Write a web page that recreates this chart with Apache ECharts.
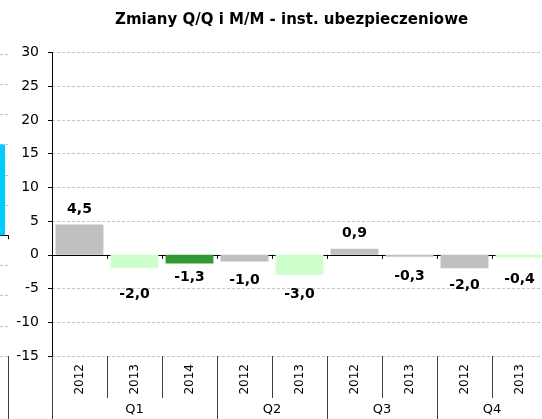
<!DOCTYPE html>
<html>
<head>
<meta charset="utf-8">
<script src="https://cdn.jsdelivr.net/npm/echarts@6/dist/echarts.min.js"></script>
<style>
  html, body { margin: 0; padding: 0; background: #fff; }
  #container { width: 542px; height: 419px; }
</style>
</head>
<body>
<div id="container"></div>
<script>
// dane z wykresu
var years = ['2012', '2013', '2014', '2012', '2013', '2012', '2013', '2012', '2013'];
var quarters = ['Q1', 'Q2', 'Q3', 'Q4'];
var quarterSizes = [3, 2, 2, 2];
var changes = [4.5, -2.0, -1.3, -1.0, -3.0, 0.9, -0.3, -2.0, -0.4];
var yTicks = [-15, -10, -5, 0, 5, 10, 15, 20, 25, 30];
// kawalek sasiedniego wykresu po lewej (ucięty)
var prevChartValues = [3];

// wyglad
var barColors = ['#c0c0c0', '#ccffcc', '#339933', '#c0c0c0', '#ccffcc', '#c0c0c0', '#c0c0c0', '#c0c0c0', '#ccffcc'];
var labelGap = [8, 19, 7, 12, 12, 8, 13, 10, 15];
var FONT = 'DejaVu Sans';

var dom = document.getElementById('container');
var myChart = echarts.init(dom, null, { renderer: 'canvas' });

// granice i srodki grup Q
var bounds = [0];
var centers = [];
for (var i = 0; i < quarterSizes.length; i++) {
    var b = bounds[bounds.length - 1];
    centers.push(b + quarterSizes[i] / 2);
    bounds.push(b + quarterSizes[i]);
}

var barData = changes.map(function (v, i) {
    return {
        value: v,
        itemStyle: { color: barColors[i] },
        label: { position: v >= 0 ? 'top' : 'bottom', distance: labelGap[i] }
    };
});

var option = {
    animation: false,
    backgroundColor: '#fff',
    title: {
        text: 'Zmiany Q/Q i M/M - inst. ubezpieczeniowe',
        left: 115,
        top: 13,
        padding: 0,
        textStyle: { fontFamily: FONT, fontSize: 15, fontWeight: 'bold', color: '#000' }
    },
    grid: [
        { left: 52, top: 52.5, width: 495, bottom: 63, containLabel: false, outerBoundsMode: 'none' },
        { left: -40, top: 54, width: 48, bottom: 63, containLabel: false, outerBoundsMode: 'none' }
    ],
    xAxis: [
        {
            gridIndex: 0, type: 'category', data: years, position: 'bottom',
            axisLine: { show: true, onZero: true, lineStyle: { color: '#000', width: 1 } },
            axisTick: { show: true, length: 4, lineStyle: { color: '#000' } },
            axisLabel: { show: false },
            splitLine: { show: false }
        },
        {
            gridIndex: 0, type: 'category', data: years, position: 'bottom',
            axisLine: { show: false, onZero: false },
            axisTick: { show: true, length: 42, lineStyle: { color: '#404040' } },
            axisLabel: { interval: 0, rotate: 90, margin: 8, fontFamily: FONT, fontSize: 12, color: '#000' },
            splitLine: { show: false }
        },
        {
            gridIndex: 0, type: 'value', min: 0, max: bounds[bounds.length - 1], position: 'bottom',
            axisLine: { show: false, onZero: false },
            axisTick: { show: true, length: 63, customValues: bounds, lineStyle: { color: '#404040' } },
            axisLabel: {
                customValues: centers, margin: 47, fontFamily: FONT, fontSize: 13, color: '#000',
                formatter: function (v) { return quarters[centers.indexOf(v)]; }
            },
            splitLine: { show: false }
        },
        {
            gridIndex: 1, type: 'category', data: ['a'], position: 'bottom',
            axisLine: { show: true, onZero: true, lineStyle: { color: '#000' } },
            axisTick: { show: true, length: 4, lineStyle: { color: '#000' } },
            axisLabel: { show: false }
        },
        {
            gridIndex: 1, type: 'category', data: ['a'], position: 'bottom',
            axisLine: { show: false, onZero: false },
            axisTick: { show: true, length: 63, lineStyle: { color: '#404040' } },
            axisLabel: { show: false }
        }
    ],
    yAxis: [
        {
            gridIndex: 0, type: 'value',
            min: yTicks[0], max: yTicks[yTicks.length - 1], interval: 5,
            axisLine: { show: true, lineStyle: { color: '#000', width: 1 } },
            axisTick: { show: true, length: 4, lineStyle: { color: '#000' } },
            axisLabel: { margin: 13, fontFamily: FONT, fontSize: 14, color: '#000' },
            splitLine: { show: true, lineStyle: { color: '#c4c4c4', width: 1, type: [3, 2] } }
        },
        {
            gridIndex: 1, type: 'value', min: -4, max: 6, interval: 1,
            axisLine: { show: false },
            axisTick: { show: false },
            axisLabel: { show: false },
            splitLine: { show: true, lineStyle: { color: '#c4c4c4', width: 1, type: [3, 2] } }
        }
    ],
    series: [
        {
            type: 'bar',
            xAxisIndex: 0, yAxisIndex: 0,
            data: barData,
            barCategoryGap: '13%',
            label: {
                show: true,
                fontFamily: FONT, fontSize: 14, fontWeight: 'bold', color: '#000', lineHeight: 14,
                formatter: function (p) { return p.value.toFixed(1).replace('.', ','); }
            }
        },
        {
            type: 'bar',
            xAxisIndex: 3, yAxisIndex: 1,
            data: prevChartValues,
            barWidth: 42,
            itemStyle: { color: '#00ccff' }
        }
    ]
};

myChart.setOption(option, true);
</script>
</body>
</html>
